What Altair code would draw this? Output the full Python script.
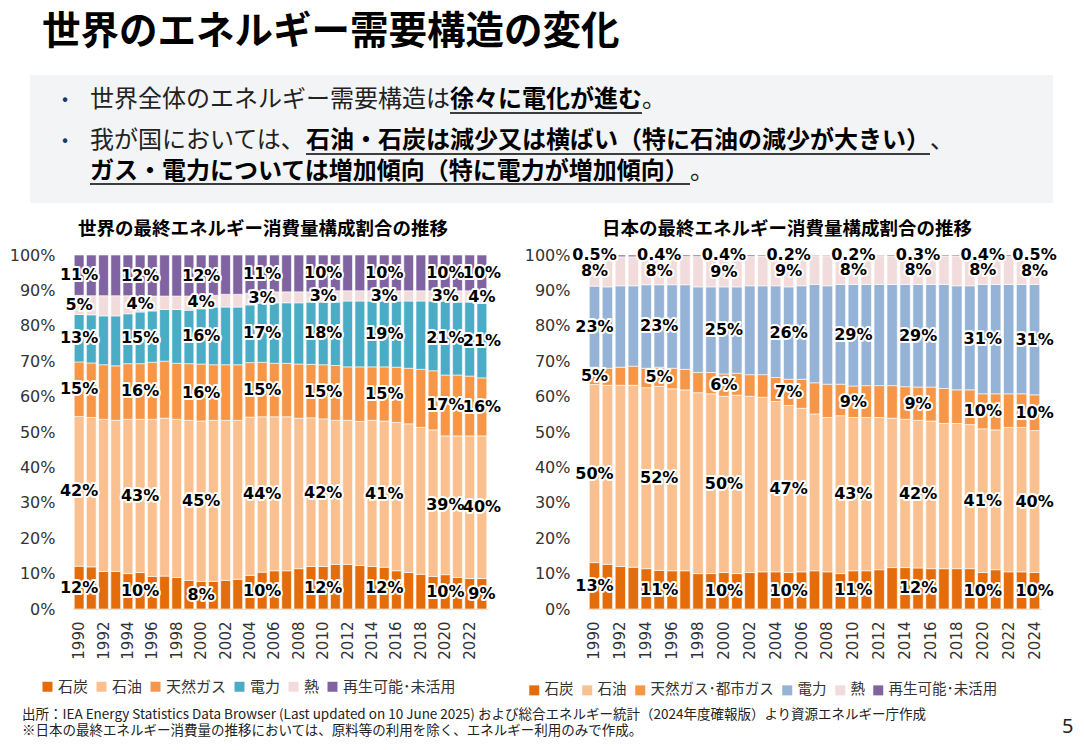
import altair as alt
import pandas as pd

# ---------------- data ----------------
YEARS_WORLD = list(range(1990, 2024))
YEARS_JAPAN = list(range(1990, 2025))
TICKS_WORLD = [1990, 1992, 1994, 1996, 1998, 2000, 2002, 2004, 2006, 2008, 2010,
               2012, 2014, 2016, 2018, 2020, 2022]
TICKS_JAPAN = [1990, 1992, 1994, 1996, 1998, 2000, 2002, 2004, 2006, 2008, 2010,
               2012, 2014, 2016, 2018, 2020, 2022, 2024]
LABEL_YEARS_WORLD = [1990, 1995, 2000, 2005, 2010, 2015, 2020, 2023]
LABEL_YEARS_JAPAN = [1990, 1995, 2000, 2005, 2010, 2015, 2020, 2024]
PCT_TICKS = [0, 10, 20, 30, 40, 50, 60, 70, 80, 90, 100]

SERIES_WORLD = ["石炭", "石油", "天然ガス", "電力", "熱", "再生可能･未活用"]
SERIES_JAPAN = ["石炭", "石油", "天然ガス･都市ガス", "電力", "熱", "再生可能･未活用"]
COLORS_WORLD = ["#e46c0a", "#fac090", "#f79646", "#4bacc6", "#f2dcdb", "#8064a2"]
COLORS_JAPAN = ["#e46c0a", "#fac090", "#f79646", "#95b3d7", "#f2dcdb", "#8064a2"]

# World shares (%), 1990-2023
w_coal = [12.1, 11.9, 10.6, 10.6, 10.0, 10.3, 9.2, 9.3, 8.9, 8.1, 7.8, 7.8, 8.1, 8.4, 9.5, 10.4,
          10.8, 10.8, 11.4, 12.0, 12.0, 12.6, 12.6, 12.3, 12.0, 11.8, 10.8, 10.3, 9.8, 9.2,
          9.7, 8.9, 8.6, 8.6]
w_oil = [42.3, 42.2, 43.0, 42.7, 43.6, 43.3, 44.4, 44.6, 44.7, 45.2, 45.3, 45.5, 45.2, 44.9,
         44.7, 43.9, 43.5, 43.5, 42.5, 42.0, 41.7, 40.7, 40.7, 40.7, 41.3, 41.3, 41.9, 42.0,
         41.5, 41.4, 39.2, 40.0, 40.3, 40.3]
w_gas = [15.4, 15.4, 15.4, 15.4, 15.7, 15.7, 16.1, 16.1, 15.8, 16.0, 16.1, 15.7, 15.7, 15.7,
         15.4, 15.4, 15.1, 15.1, 15.3, 15.1, 15.3, 15.5, 15.1, 15.4, 15.1, 15.3, 15.6, 15.7,
         16.4, 16.7, 17.2, 17.2, 16.9, 16.4]
w_elec = [13.4, 13.6, 13.8, 14.1, 14.1, 14.6, 14.5, 14.6, 15.2, 15.1, 15.6, 16.3, 16.3, 16.3,
          16.3, 16.7, 17.1, 17.1, 17.3, 17.6, 17.7, 17.9, 18.6, 18.6, 18.6, 18.6, 18.7, 19.0,
          19.3, 19.7, 20.9, 20.6, 20.9, 21.0]
w_heat = [5.4, 5.4, 5.7, 5.7, 5.1, 4.4, 4.2, 3.8, 3.8, 4.0, 3.6, 3.3, 3.6, 3.6, 3.3, 2.9,
          3.1, 3.1, 3.1, 2.9, 3.2, 3.2, 2.9, 2.9, 2.9, 2.9, 2.9, 2.9, 2.9, 2.9, 2.9, 3.2,
          3.2, 3.6]
w_renew = [11.4, 11.5, 11.5, 11.5, 11.5, 11.7, 11.6, 11.6, 11.6, 11.6, 11.6, 11.4, 11.1, 11.1,
           10.8, 10.7, 10.4, 10.4, 10.4, 10.4, 10.1, 10.1, 10.1, 10.1, 10.1, 10.1, 10.1, 10.1,
           10.1, 10.1, 10.1, 10.1, 10.1, 10.1]

# Japan shares (%), 1990-2024
j_coal = [13.1, 12.6, 12.0, 11.8, 11.4, 10.9, 10.8, 10.8, 10.0, 10.0, 10.3, 10.0, 10.3, 10.5,
          10.5, 10.3, 10.5, 10.8, 10.5, 10.0, 10.8, 10.8, 11.1, 11.7, 11.7, 11.6, 11.4, 11.4,
          11.4, 11.4, 10.3, 11.1, 10.5, 10.5, 10.3]
j_oil = [50.3, 50.6, 51.2, 51.4, 51.1, 52.0, 51.4, 51.1, 51.1, 50.8, 49.8, 50.4, 49.8, 49.3,
         48.1, 47.2, 46.2, 44.3, 43.6, 44.6, 43.3, 43.3, 43.0, 42.2, 41.9, 41.7, 41.7, 41.0,
         41.0, 40.7, 40.6, 39.5, 40.8, 40.8, 40.1]
j_gas = [4.9, 4.8, 5.1, 5.4, 5.5, 5.4, 5.8, 5.8, 5.7, 6.0, 6.3, 6.2, 6.1, 6.4, 6.8, 7.4, 8.2,
         8.8, 9.4, 8.9, 8.9, 9.0, 9.0, 9.2, 9.2, 9.4, 9.6, 9.9, 9.5, 9.8, 9.9, 10.2, 9.5, 9.5,
         10.1]
j_elec = [22.9, 23.0, 23.0, 22.7, 23.6, 23.3, 23.6, 23.9, 24.2, 24.2, 24.6, 24.4, 25.1, 25.1,
          25.9, 26.1, 26.4, 27.8, 27.8, 28.2, 28.7, 28.6, 28.6, 28.6, 28.9, 29.0, 29.0, 29.4,
          29.4, 29.4, 30.9, 30.9, 30.9, 30.9, 31.2]
j_heat = [8.3, 8.5, 8.2, 8.2, 8.0, 8.0, 8.0, 8.0, 8.6, 8.6, 8.6, 8.6, 8.3, 8.4, 8.4, 8.8, 8.5,
          8.1, 8.5, 8.1, 8.1, 8.1, 8.1, 8.0, 8.0, 8.0, 8.0, 8.0, 8.4, 8.3, 7.9, 7.9, 7.9, 7.8,
          7.8]
j_renew = [0.5, 0.5, 0.5, 0.5, 0.4, 0.4, 0.4, 0.4, 0.4, 0.4, 0.4, 0.4, 0.4, 0.3, 0.3, 0.2, 0.2,
           0.2, 0.2, 0.2, 0.2, 0.2, 0.2, 0.3, 0.3, 0.3, 0.3, 0.3, 0.3, 0.4, 0.4, 0.4, 0.4, 0.5,
           0.5]

JP = "Noto Sans CJK JP"
NUM = "DejaVu Sans"


def long_df(years, series, arrays):
    rows = []
    for i, (name, vals) in enumerate(zip(series, arrays)):
        for y, v in zip(years, vals):
            rows.append({"year": y, "series": name, "order": i, "value": v})
    return pd.DataFrame(rows)


df_w = long_df(YEARS_WORLD, SERIES_WORLD, [w_coal, w_oil, w_gas, w_elec, w_heat, w_renew])
df_j = long_df(YEARS_JAPAN, SERIES_JAPAN, [j_coal, j_oil, j_gas, j_elec, j_heat, j_renew])


def panel(df, ticks, label_years, series, colors, x_range, legend_x, legend_y,
          legend_fs, legend_pad, renew_on_top):
    xs = alt.Scale(range=x_range, paddingInner=0.2, paddingOuter=0.1)
    ys = alt.Scale(domain=[0, 100], range=[609, 255], nice=False)
    xa = alt.Axis(orient="bottom", offset=-141, values=ticks, labelAngle=-90,
                  labelFont=NUM, labelFontSize=15, labelColor="#333333",
                  labelPadding=12, ticks=False, tickSize=0, domain=True,
                  domainColor="#d9d9d9", domainWidth=1.2, grid=False, title=None,
                  labelOverlap=False)
    ya = alt.Axis(orient="left", offset=-x_range[0], values=PCT_TICKS,
                  labelExpr="datum.value + '%'", labelFont=NUM, labelFontSize=16,
                  labelColor="#333333", labelPadding=18, ticks=False, tickSize=0,
                  domain=False, grid=False, title=None)
    X = alt.X("year:O", scale=xs, axis=xa)
    bars = alt.Chart(df).mark_bar(stroke="white", strokeWidth=0.6).encode(
        x=X,
        y=alt.Y("value:Q", stack="zero", scale=ys, axis=ya),
        color=alt.Color(
            "series:N",
            scale=alt.Scale(domain=series, range=colors),
            sort=series,
            legend=alt.Legend(title=None, orient="none", legendX=legend_x,
                              legendY=legend_y, direction="horizontal", columns=6,
                              symbolType="square", symbolSize=100,
                              symbolStrokeWidth=0, labelFont=JP,
                              labelFontSize=legend_fs, labelColor="#333333",
                              labelOffset=3, columnPadding=legend_pad, padding=0),
        ),
        order=alt.Order("order:Q", sort="ascending"),
    )
    if renew_on_top:
        ymid = "datum.order === 5 ? datum.y1 : (datum.y0 + datum.y1) / 2"
        txt = ("datum.order === 5 ? format(datum.value, '.1f') + '%' : "
               "format(datum.value, '.0f') + '%'")
    else:
        ymid = "(datum.y0 + datum.y1) / 2"
        txt = "format(datum.value, '.0f') + '%'"
    base = (
        alt.Chart(df)
        .transform_stack(stack="value", groupby=["year"], as_=["y0", "y1"],
                         sort=[alt.SortField(field="order", order="ascending")])
        .transform_filter(alt.FieldOneOfPredicate(field="year", oneOf=label_years))
        .transform_calculate(ymid=ymid, txt=txt)
    )
    Y2 = alt.Y("ymid:Q", scale=ys, axis=ya)
    halo = base.mark_text(font=NUM, fontSize=16, fontWeight="bold", color="white",
                          stroke="white", strokeWidth=4, strokeJoin="round",
                          align="center", baseline="middle").encode(
        x=X, y=Y2, text="txt:N")
    lab = base.mark_text(font=NUM, fontSize=16, fontWeight="bold", color="#000000",
                         align="center", baseline="middle").encode(
        x=X, y=Y2, text="txt:N")
    return alt.layer(bars, halo, lab)


world = panel(df_w, TICKS_WORLD, LABEL_YEARS_WORLD, SERIES_WORLD, COLORS_WORLD,
              [73, 488], 40, 679, 15, 5, False)
japan = panel(df_j, TICKS_JAPAN, LABEL_YEARS_JAPAN, SERIES_JAPAN, COLORS_JAPAN,
              [588, 1041], 527, 683, 14.5, 6, True)

# ---------------- slide decoration ----------------
one = pd.DataFrame({"k": [1]})


def txt(s, x, y, size, weight="normal", align="left", color="#000000", font=JP):
    return alt.Chart(one).mark_text(
        text=s, align=align, baseline="middle", fontSize=size, fontWeight=weight,
        font=font, color=color).encode(x=alt.value(x), y=alt.value(y))


def uline(x1, x2, y):
    return alt.Chart(one).mark_rule(color="#000000", strokeWidth=1.3).encode(
        x=alt.value(x1), x2=alt.value(x2), y=alt.value(y))


box = alt.Chart(one).mark_rect(color="#f2f4f6").encode(
    x=alt.value(30), x2=alt.value(1053), y=alt.value(75), y2=alt.value(203))

FS = 24
X0 = 90
deco = [
    box,
    txt("世界のエネルギー需要構造の変化", 42, 32, 38.5, "bold"),
    txt("•", 62, 100, 18, color="#1f3864"),
    txt("•", 62, 141, 18, color="#1f3864"),
    txt("世界全体のエネルギー需要構造は", X0, 100, FS, color="#222222"),
    txt("徐々に電化が進む", X0 + 15 * FS, 100, FS, "bold"),
    txt("。", X0 + 23 * FS, 100, FS, color="#222222"),
    uline(X0 + 15 * FS, X0 + 23 * FS, 113),
    txt("我が国においては、", X0, 141, FS, color="#222222"),
    txt("石油・石炭は減少又は横ばい（特に石油の減少が大きい）", X0 + 9 * FS, 141, FS, "bold"),
    txt("、", X0 + 35 * FS, 141, FS, color="#222222"),
    uline(X0 + 9 * FS, X0 + 35 * FS, 154),
    txt("ガス・電力については増加傾向（特に電力が増加傾向）", X0, 172, FS, "bold"),
    txt("。", X0 + 25 * FS, 172, FS, color="#222222"),
    uline(X0, X0 + 25 * FS, 184),
    txt("世界の最終エネルギー消費量構成割合の推移", 263, 229, 18.5, "bold", "center"),
    txt("日本の最終エネルギー消費量構成割合の推移", 787, 229, 18.5, "bold", "center"),
    txt("出所：IEA Energy Statistics Data Browser (Last updated on 10 June 2025) "
        "および総合エネルギー統計（2024年度確報版）より資源エネルギー庁作成",
        22, 715, 13.5, color="#222222"),
    txt("※日本の最終エネルギー消費量の推移においては、原料等の利用を除く、エネルギー利用のみで作成。",
        22, 731, 13.5, color="#222222"),
    txt("5", 1062, 727, 20, color="#222222", font="Noto Sans"),
]

chart = (
    alt.layer(*deco, world, japan)
    .resolve_scale(x="independent", y="independent", color="independent")
    .properties(width=1084, height=750, autosize=alt.AutoSizeParams(type="none"),
                padding=0, background="white")
    .configure_view(stroke=None)
)

chart.save("out.html", embed_options={"renderer": "svg", "actions": False})
